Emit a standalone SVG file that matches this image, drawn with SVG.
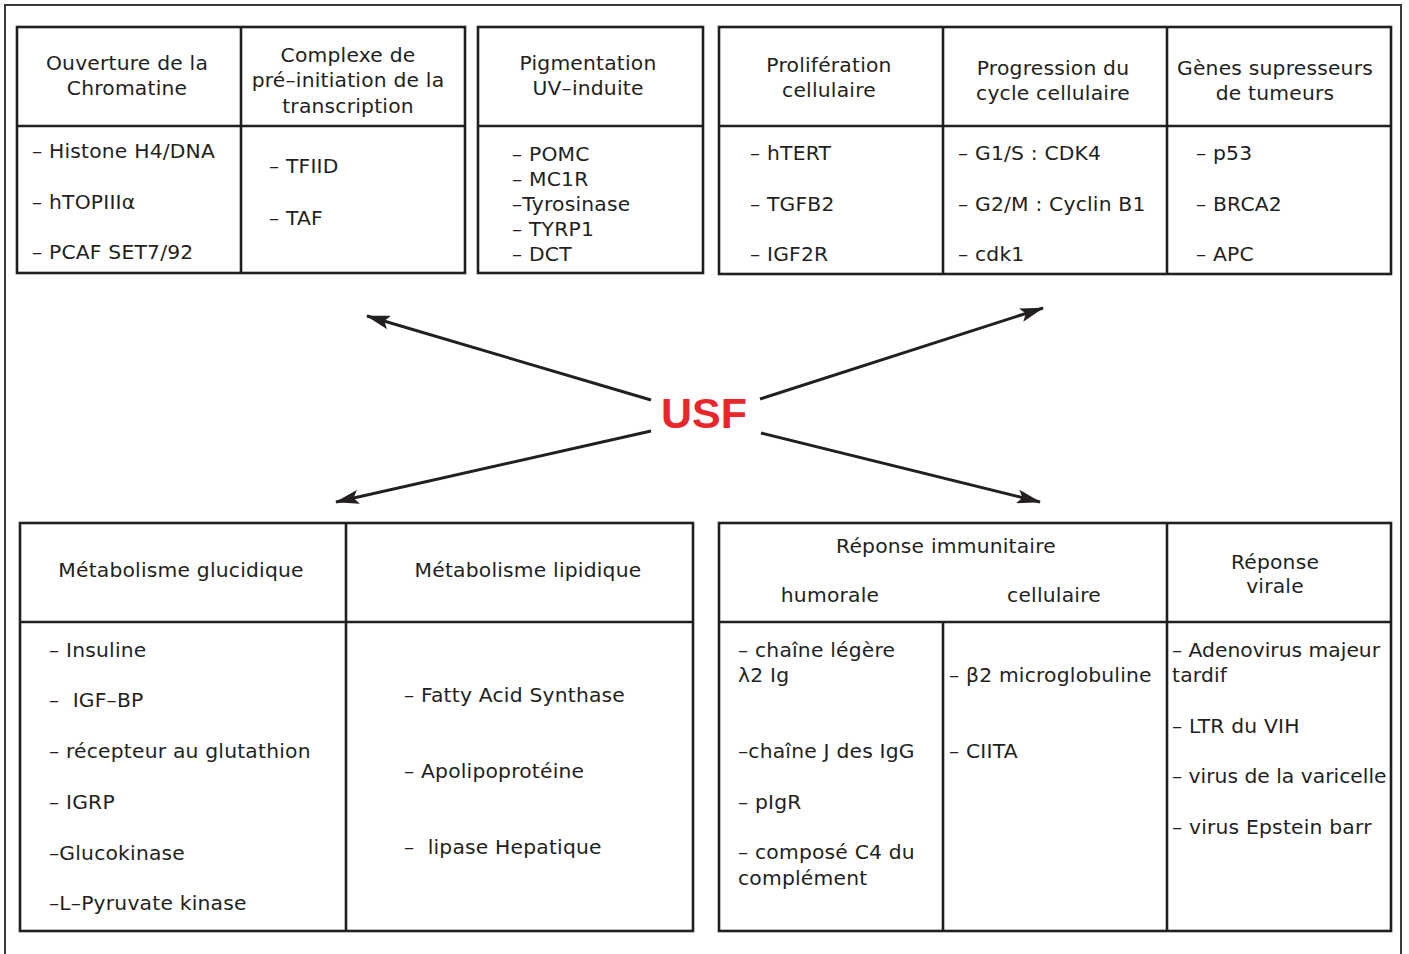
<svg xmlns="http://www.w3.org/2000/svg" width="1409" height="954" viewBox="0 0 1409 954">
<defs>
<style>
.frame{fill:none;stroke:#3a3a3a;stroke-width:2}
.box{fill:#fff;stroke:#231f20;stroke-width:2.6}
.ln{stroke:#231f20;stroke-width:2.6;fill:none}
text{font-family:"DejaVu Sans","Liberation Sans",sans-serif;font-size:20.3px;fill:#231f20;letter-spacing:0.2px;white-space:pre}
.c{text-anchor:middle}
.tight{letter-spacing:0}
.arrow{stroke:#231f20;stroke-width:3;fill:none}
.usf{font-family:"Liberation Sans",Arial,sans-serif;font-weight:bold;font-size:43px;fill:#e8262b;text-anchor:middle;letter-spacing:0}
</style>
<marker id="ah" viewBox="0 0 24 14" refX="23" refY="7" markerWidth="24" markerHeight="14" markerUnits="userSpaceOnUse" orient="auto">
<path d="M0,0 L24,7 L0,14 L5,7 z" fill="#231f20"/>
</marker>
</defs>
<rect width="1409" height="954" fill="#fff"/>
<path class="frame" d="M5,956 V5 H1401 V956"/>

<g id="box-chromatine">
<rect class="box" x="17" y="27" width="448" height="246"/>
<line class="ln" x1="17" y1="126" x2="465" y2="126"/>
<line class="ln" x1="241" y1="27" x2="241" y2="273"/>
<text class="c" x="127" y="70">Ouverture de la</text>
<text class="c" x="127" y="95">Chromatine</text>
<text class="c" x="348" y="62">Complexe de</text>
<text class="c" x="348" y="87">pré–initiation de la</text>
<text class="c" x="348" y="113">transcription</text>
<text x="32" y="158">– Histone H4/DNA</text>
<text x="32" y="209">– hTOPIIIα</text>
<text x="32" y="259">– PCAF SET7/92</text>
<text x="269" y="173">– TFIID</text>
<text x="269" y="225">– TAF</text>
</g>

<g id="box-pigmentation">
<rect class="box" x="478" y="27" width="225" height="246"/>
<line class="ln" x1="478" y1="126" x2="703" y2="126"/>
<text class="c" x="588" y="70">Pigmentation</text>
<text class="c" x="588" y="95">UV–induite</text>
<text x="512" y="161">– POMC</text>
<text x="512" y="186">– MC1R</text>
<text x="512" y="211">–Tyrosinase</text>
<text x="512" y="236">– TYRP1</text>
<text x="512" y="261">– DCT</text>
</g>

<g id="box-proliferation">
<rect class="box" x="719" y="27" width="672" height="247"/>
<line class="ln" x1="719" y1="126" x2="1391" y2="126"/>
<line class="ln" x1="943" y1="27" x2="943" y2="274"/>
<line class="ln" x1="1167" y1="27" x2="1167" y2="274"/>
<text class="c" x="829" y="72">Prolifération</text>
<text class="c" x="829" y="97">cellulaire</text>
<text x="750" y="160">– hTERT</text>
<text x="750" y="211">– TGFB2</text>
<text x="750" y="261">– IGF2R</text>
<text class="c" x="1053" y="75">Progression du</text>
<text class="c" x="1053" y="100">cycle cellulaire</text>
<text x="958" y="160">– G1/S : CDK4</text>
<text x="958" y="211">– G2/M : Cyclin B1</text>
<text x="958" y="261">– cdk1</text>
<text class="c" x="1275" y="75">Gènes supresseurs</text>
<text class="c" x="1275" y="100">de tumeurs</text>
<text x="1196" y="160">– p53</text>
<text x="1196" y="211">– BRCA2</text>
<text x="1196" y="261">– APC</text>
</g>

<g id="usf">
<text class="usf" x="704" y="428">USF</text>
</g>

<g id="connectors">
<line class="arrow" x1="651" y1="400" x2="367" y2="316" marker-end="url(#ah)"/>
<line class="arrow" x1="760" y1="399" x2="1043" y2="308" marker-end="url(#ah)"/>
<line class="arrow" x1="651" y1="431" x2="336" y2="502" marker-end="url(#ah)"/>
<line class="arrow" x1="761" y1="433" x2="1040" y2="502" marker-end="url(#ah)"/>
</g>

<g id="box-metabolisme">
<rect class="box" x="20" y="523" width="673" height="408"/>
<line class="ln" x1="20" y1="622" x2="693" y2="622"/>
<line class="ln" x1="346" y1="523" x2="346" y2="931"/>
<text class="c" x="181" y="577">Métabolisme glucidique</text>
<text class="c" x="528" y="577">Métabolisme lipidique</text>
<text x="49" y="657">– Insuline</text>
<text x="49" y="707">–  IGF–BP</text>
<text x="49" y="758">– récepteur au glutathion</text>
<text x="49" y="809">– IGRP</text>
<text x="49" y="860">–Glucokinase</text>
<text x="49" y="910">–L–Pyruvate kinase</text>
<text x="404" y="702">– Fatty Acid Synthase</text>
<text x="404" y="778">– Apolipoprotéine</text>
<text x="404" y="854">–  lipase Hepatique</text>
</g>

<g id="box-reponse">
<rect class="box" x="719" y="523" width="672" height="408"/>
<line class="ln" x1="719" y1="622" x2="1391" y2="622"/>
<line class="ln" x1="1167" y1="523" x2="1167" y2="931"/>
<line class="ln" x1="943" y1="622" x2="943" y2="931"/>
<text class="c" x="946" y="553">Réponse immunitaire</text>
<text class="c" x="830" y="602">humorale</text>
<text class="c" x="1054" y="602">cellulaire</text>
<text class="c" x="1275" y="569">Réponse</text>
<text class="c" x="1275" y="593">virale</text>
<text x="738" y="657">– chaîne légère</text>
<text x="738" y="682">λ2 Ig</text>
<text x="738" y="758">–chaîne J des IgG</text>
<text x="738" y="809">– pIgR</text>
<text x="738" y="859">– composé C4 du</text>
<text x="738" y="885">complément</text>
<text x="949" y="682">– β2 microglobuline</text>
<text x="949" y="758">– CIITA</text>
<text class="tight" x="1172" y="657">– Adenovirus majeur</text>
<text x="1172" y="682">tardif</text>
<text x="1172" y="733">– LTR du VIH</text>
<text class="tight" x="1172" y="783">– virus de la varicelle</text>
<text x="1172" y="834">– virus Epstein barr</text>
</g>
</svg>
